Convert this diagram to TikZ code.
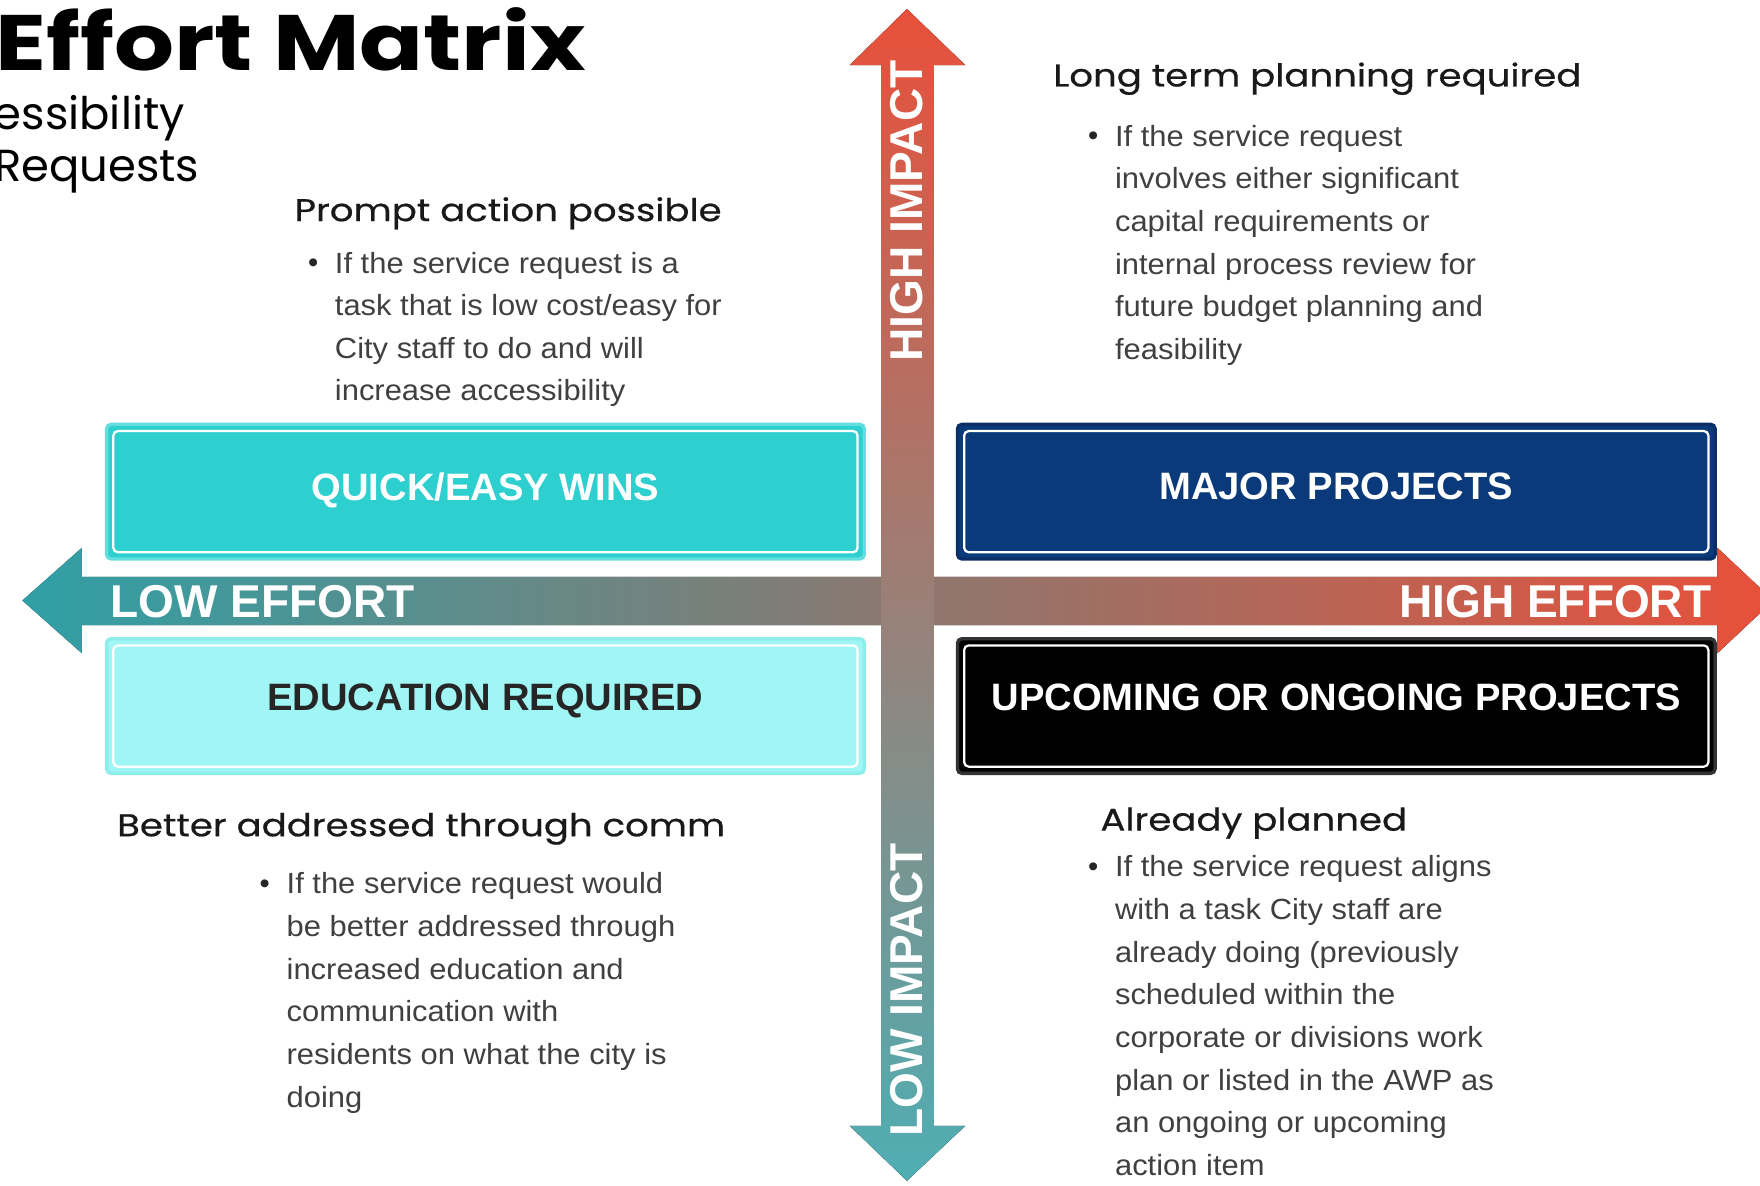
\documentclass[tikz,border=0pt]{standalone}
\usepackage{fontspec}
\setmainfont{Liberation Sans}
\newfontfamily\headfont[FakeStretch=1.18, FakeBold=0.6]{Poppins}
\newfontfamily\titlefont[FakeStretch=1.2]{Poppins}
\newfontfamily\subfont{Poppins}
\newfontfamily\notefont[FakeStretch=1.06]{Liberation Sans}
\usepackage{tikz}
\usetikzlibrary{positioning}
\definecolor{axisred}{HTML}{E8503A}
\definecolor{axisteal}{HTML}{2FA0A6}
\definecolor{axisgray}{HTML}{B2B0AF}
\definecolor{quickfill}{HTML}{2ECFCF}
\definecolor{quickedge}{HTML}{62DEDE}
\definecolor{majorfill}{HTML}{0A3A7A}
\definecolor{majoredge}{HTML}{0A2F66}
\definecolor{edufill}{HTML}{A0F6F4}
\definecolor{eduedge}{HTML}{8CEDEB}
\tikzset{
quad/.style={rounded corners=2pt, line width=1.5pt, minimum width=337.5pt, minimum height=60pt,
  inner sep=0pt, text depth=0.45em, font=\bfseries\fontsize{17}{20}\selectfont,
  path picture={\draw[white, line width=1pt]
    ([shift={(3pt,-3pt)}]path picture bounding box.north west) rectangle
    ([shift={(-3pt,3pt)}]path picture bounding box.south east);}}, % white inner rim
lowquad/.style={quad, text depth=0.8em},
heading/.style={anchor=base west, inner sep=0pt, text=black!90, font=\headfont\fontsize{14}{17}\selectfont},
body/.style={anchor=north west, inner sep=0pt, align=left, text=black!75, font=\notefont\fontsize{13}{19}\selectfont},
dot/.style={anchor=base west, inner sep=0pt, text=black!85, font=\fontsize{13}{19}\selectfont},
axislabel/.style={text=white, inner sep=0pt, font=\bfseries\fontsize{20.5}{24}\selectfont},
}

\begin{document}
\begin{tikzpicture}[x=0.5pt, y=-0.5pt]
  \useasboundingbox (0,0) rectangle (1568,1056);

  % title, cut at the left edge
  \node[anchor=base east, inner sep=0pt, font=\titlefont\bfseries\fontsize{35}{40}\selectfont] (title) at (522,63) {Effort Matrix};
  \node[anchor=base east, inner sep=0pt, font=\subfont\fontsize{20}{24}\selectfont] (sub1) at (165,115) {essibility};
  \node[anchor=base east, inner sep=0pt, font=\subfont\fontsize{20}{24}\selectfont] (sub2) at (178,162) {Requests};

  % axes
  \fill[left color=axisteal, middle color=axisgray, right color=axisred]
    (20,535) -- (73,488) -- (73,514) -- (1530,514) -- (1530,488) -- (1580,535)
    -- (1530,582) -- (1530,557) -- (73,557) -- (73,582) -- cycle;
  \fill[top color=axisred, middle color=axisgray, bottom color=axisteal!85!white]
    (808,8) -- (860,58) -- (832,58) -- (832,1003) -- (860,1003) -- (808,1052)
    -- (757,1003) -- (785,1003) -- (785,58) -- (757,58) -- cycle;
  \node[axislabel, rotate=90] (hiimp) at (808,188) {HIGH IMPACT};
  \node[axislabel, rotate=90] (loimp) at (808,882) {LOW IMPACT};
  \node[axislabel, anchor=base west] (loeff) at (98,550) {LOW EFFORT};
  \node[axislabel, anchor=base east] (hieff) at (1525,550) {HIGH EFFORT};

  % quadrant boxes
  \node[quad, fill=quickfill, draw=quickedge, text=white] (quick) at (432.5,438) {QUICK/EASY WINS};
  \node[quad, fill=majorfill, draw=majoredge, text=white, right=40pt of quick] (major) {MAJOR PROJECTS};
  \node[lowquad, fill=edufill, draw=eduedge, text=black!85, below=34pt of quick] (edu) {EDUCATION REQUIRED};
  \node[lowquad, fill=black, draw=black!80, text=white, below=34pt of major] (upcoming) {UPCOMING OR ONGOING PROJECTS};

  % quadrant notes
  \node[heading] (quickhd) at (262,197) {Prompt action possible};
  \node[dot] at (274,243) {\textbullet};
  \node[body] (quicktxt) at (298,224) {If the service request is a\\task that is low cost/easy for\\City staff to do and will\\increase accessibility};

  \node[heading] (majorhd) at (938,77) {Long term planning required};
  \node[dot] at (969,130) {\textbullet};
  \node[body] (majortxt) at (993,111) {If the service request\\involves either significant\\capital requirements or\\internal process review for\\future budget planning and\\feasibility};

  \node[heading] (eduhd) at (104,745) {Better addressed through comm};
  \node[dot] at (231,796) {\textbullet};
  \node[body] (edutxt) at (255,777) {If the service request would\\be better addressed through\\increased education and\\communication with\\residents on what the city is\\doing};

  \node[heading] (upcominghd) at (980,740) {Already planned};
  \node[dot] at (969,781) {\textbullet};
  \node[body] (upcomingtxt) at (993,762) {If the service request aligns\\with a task City staff are\\already doing (previously\\scheduled within the\\corporate or divisions work\\plan or listed in the AWP as\\an ongoing or upcoming\\action item};
\end{tikzpicture}
\end{document}
